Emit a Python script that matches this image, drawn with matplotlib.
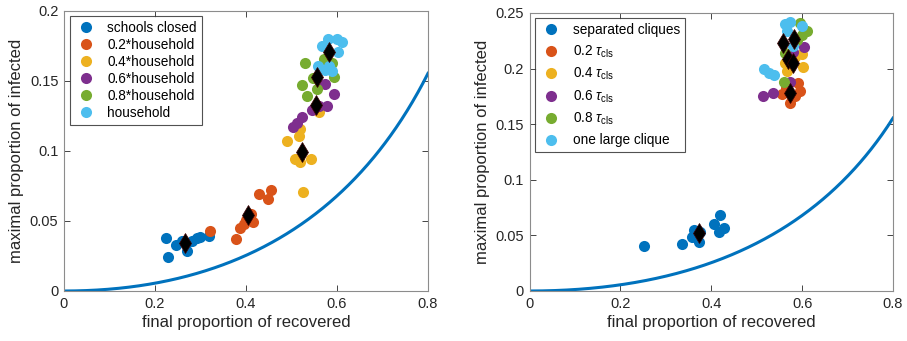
import numpy as np
import matplotlib
matplotlib.use("Agg")
import matplotlib.pyplot as plt

plt.rcParams['font.family'] = ['Liberation Sans', 'DejaVu Sans']
plt.rcParams['mathtext.fontset'] = 'custom'
plt.rcParams['mathtext.rm'] = 'Liberation Sans'
plt.rcParams['mathtext.it'] = 'Liberation Sans:italic'

colors = ['#0072BD', '#D95319', '#EDB120', '#7E2F8E', '#77AC30', '#4DBEEE']

# ---- Left panel data ----
left_labels = ['schools closed', '0.2*household', '0.4*household',
               '0.6*household', '0.8*household', 'household']
left_x = [
    [0.224, 0.228, 0.246, 0.259, 0.270, 0.281, 0.292, 0.299, 0.319, 0.268],
    [0.321, 0.379, 0.387, 0.396, 0.412, 0.415, 0.429, 0.449, 0.456, 0.401],
    [0.526, 0.491, 0.517, 0.519, 0.508, 0.519, 0.542, 0.561],
    [0.503, 0.513, 0.522, 0.544, 0.561, 0.577, 0.593, 0.574],
    [0.530, 0.522, 0.535, 0.555, 0.548, 0.572, 0.588, 0.593],
    [0.566, 0.581, 0.599, 0.610, 0.603, 0.559, 0.574, 0.588, 0.583],
]
left_y = [
    [0.0376, 0.024, 0.0329, 0.036, 0.0288, 0.036, 0.0376, 0.0383, 0.0393, 0.034],
    [0.043, 0.037, 0.045, 0.048, 0.055, 0.049, 0.069, 0.066, 0.072, 0.051],
    [0.071, 0.107, 0.111, 0.116, 0.094, 0.092, 0.094, 0.128],
    [0.117, 0.120, 0.124, 0.129, 0.132, 0.132, 0.141, 0.148],
    [0.163, 0.147, 0.139, 0.144, 0.152, 0.166, 0.163, 0.153],
    [0.175, 0.180, 0.180, 0.178, 0.171, 0.161, 0.158, 0.157, 0.161],
]
left_mean_x = [0.267, 0.405, 0.522, 0.554, 0.557, 0.583]
left_mean_y = [0.034, 0.054, 0.0995, 0.133, 0.153, 0.171]

# ---- Right panel data ----
right_labels = ['separated cliques', r'0.2 $\tau_{\rm cls}$', r'0.4 $\tau_{\rm cls}$',
                r'0.6 $\tau_{\rm cls}$', r'0.8 $\tau_{\rm cls}$', 'one large clique']
right_x = [
    [0.252, 0.335, 0.357, 0.361, 0.374, 0.376, 0.407, 0.420, 0.429, 0.418],
    [0.556, 0.574, 0.592, 0.596, 0.565, 0.585],
    [0.563, 0.574, 0.600, 0.603, 0.566, 0.585],
    [0.514, 0.537, 0.605, 0.573, 0.580],
    [0.596, 0.611, 0.561, 0.563, 0.589, 0.600],
    [0.515, 0.526, 0.539, 0.563, 0.574, 0.567, 0.600, 0.581],
]
right_y = [
    [0.0408, 0.042, 0.049, 0.055, 0.044, 0.053, 0.060, 0.068, 0.057, 0.053],
    [0.177, 0.169, 0.187, 0.180, 0.183, 0.175],
    [0.205, 0.201, 0.213, 0.201, 0.198, 0.210],
    [0.175, 0.178, 0.219, 0.188, 0.215],
    [0.241, 0.234, 0.188, 0.214, 0.226, 0.230],
    [0.200, 0.196, 0.194, 0.240, 0.242, 0.234, 0.238, 0.220],
]
right_mean_x = [0.374, 0.573, 0.568, 0.581, 0.559, 0.583]
right_mean_y = [0.052, 0.178, 0.209, 0.205, 0.223, 0.227]

# ---- SIR reference curve: final size vs peak prevalence ----
r_final = np.linspace(1e-4, 0.8, 400)
R0 = -np.log(1 - r_final) / r_final
i_max = 1 - (1 + np.log(R0)) / R0

W, H = 907, 341
fig = plt.figure(figsize=(W / 100, H / 100), dpi=100)
ax1 = fig.add_axes([64 / W, (H - 291) / H, 364 / W, 280 / H])
ax2 = fig.add_axes([529.5 / W, (H - 291) / H, 363.5 / W, 278 / H])

edge = '#262626'

def style(ax, ylim, yticks, yticklabels):
    ax.set_xlim(0, 0.8)
    ax.set_ylim(*ylim)
    ax.set_xticks([0, 0.2, 0.4, 0.6, 0.8])
    ax.set_xticklabels(['0', '0.2', '0.4', '0.6', '0.8'])
    ax.set_yticks(yticks)
    ax.set_yticklabels(yticklabels)
    ax.tick_params(direction='in', top=True, right=True, length=4, width=0.6,
                   labelsize=10.5, colors=edge, pad=4)
    for s in ax.spines.values():
        s.set_color('#8c8c8c')
        s.set_linewidth(0.8)
    ax.set_xlabel('final proportion of recovered', fontsize=12, color=edge, labelpad=3)
    ax.set_ylabel('maximal proportion of infected', fontsize=12, color=edge, labelpad=4)

def draw(ax, xs, ys, mx, my, labels, spacing):
    ax.plot(r_final, i_max, color=colors[0], lw=2.2, zorder=2)
    handles = []
    for k in range(len(xs)):
        ax.plot(xs[k], ys[k], 'o', color=colors[k], ms=8, mec='none', zorder=3)
        h, = ax.plot([], [], 'o', color=colors[k], ms=8, mec='none', label=labels[k])
        handles.append(h)
    ax.plot(mx, my, 'd', color='black', ms=10, mec='#3a0000', mew=0.5, zorder=5, ls='none')
    leg = ax.legend(handles=handles, loc='upper left', fontsize=9.8, frameon=True,
                    fancybox=False, edgecolor=edge, handlelength=1.6, handletextpad=0.8,
                    borderpad=0.35, labelspacing=spacing, borderaxespad=0.3,
                    bbox_to_anchor=(0.005, 0.995))
    leg.get_frame().set_linewidth(0.8)

draw(ax1, left_x, left_y, left_mean_x, left_mean_y, left_labels, 0.22)
style(ax1, (0, 0.2), [0, 0.05, 0.1, 0.15, 0.2], ['0', '0.05', '0.1', '0.15', '0.2'])
draw(ax2, right_x, right_y, right_mean_x, right_mean_y, right_labels, 0.45)
style(ax2, (0, 0.25), [0, 0.05, 0.1, 0.15, 0.2, 0.25],
      ['0', '0.05', '0.1', '0.15', '0.2', '0.25'])

fig.savefig('out.png', dpi=100)
